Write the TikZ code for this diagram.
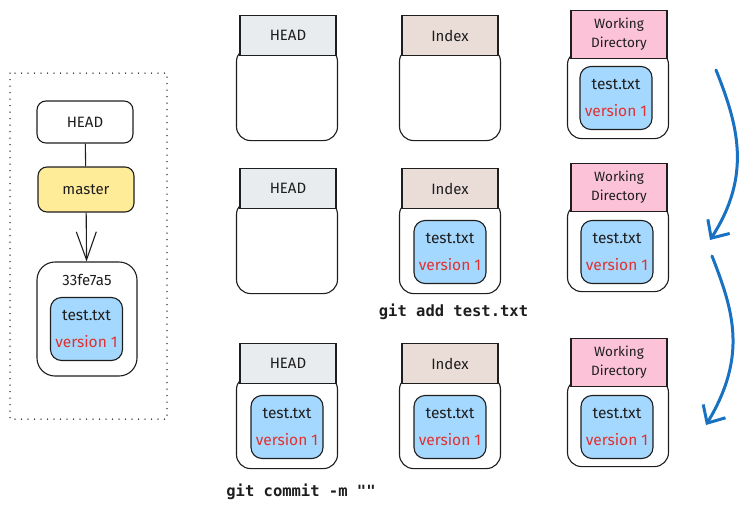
\documentclass[tikz,border=0pt]{standalone}
\usepackage{fontspec}
\setmainfont{Fira Sans}
\setmonofont{DejaVu Sans Mono}
\usetikzlibrary{arrows.meta}

\definecolor{ink}{HTML}{1E1E1E}
\definecolor{headgray}{HTML}{E9ECEF}
\definecolor{indexbrown}{HTML}{EADDD7}
\definecolor{wdpink}{HTML}{FCC2D7}
\definecolor{masteryellow}{HTML}{FFEC99}
\definecolor{fileblue}{HTML}{A5D8FF}
\definecolor{versionred}{HTML}{E03131}
\definecolor{flowblue}{HTML}{1971C2}

\begin{document}
\begin{tikzpicture}[x=1pt,y=-1pt,line width=1.1pt,draw=ink,text=ink,
    lbl/.style={font=\fontsize{15}{17}\selectfont},
    tab/.style={draw,lbl,inner sep=0pt,minimum width=96pt,minimum height=40pt,align=center,anchor=north},
    body/.style={draw,fill=white,rounded corners=14pt,inner sep=0pt,minimum width=101pt,anchor=north},
    file/.style={draw,fill=fileblue,rounded corners=11pt,inner sep=0pt,minimum width=72pt,minimum height=63pt,
      align=center,font=\fontsize{15.5}{27}\selectfont},
    box/.style={draw,lbl,rounded corners=9pt,inner sep=0pt,minimum width=96pt,minimum height=42pt},
    cmd/.style={font=\ttfamily\bfseries\fontsize{15.5}{18}\selectfont},
    flow/.style={flowblue,line width=3pt,line cap=round,-{Straight Barb[length=14pt,width=26pt,line width=3pt]}}]

    \useasboundingbox (0,0) rectangle (753,509);

    % the branch on the left
    \draw[line width=1.5pt,line cap=round,dash pattern=on 0pt off 6.5pt] (10,73) rectangle (167,419);
    \node[box] (ref) at (85,122) {HEAD};
    \node[box,fill=masteryellow,minimum height=45pt] (master) at (86,189.5) {master};
    \node[draw,rounded corners=18pt,minimum width=100pt,minimum height=114pt] (commit) at (87,319) {};
    \node[lbl] (sha) at (87,280) {33fe7a5};
    \node[file] (fc) at (86.5,329) {test.txt\\\textcolor{versionred}{version 1}};
    \draw (ref) -- (master);
    \draw[-{Straight Barb[length=28pt,width=20pt]}] (master) -- (commit);

    % HEAD, Index and Working Directory, three rows
    \foreach \r/\t in {1/15,2/168,3/343} {
        \node[body,minimum height=93pt] (hb\r) at (287,\t+32) {};
        \node[tab,fill=headgray] (h\r) at (288,\t) {HEAD};
        \node[body,minimum height=93pt] (ib\r) at (450,\t+32) {};
        \node[tab,fill=indexbrown] (i\r) at (450,\t) {Index};
        \node[body,minimum height=88pt] (wb\r) at (618,\t+35) {};
        \node[tab,fill=wdpink,minimum height=48pt,font=\fontsize{13.5}{19}\selectfont] (w\r) at (619,\t-5) {Working\\Directory};
    }

    % the file in each place
    \foreach \n/\x/\y in {w1/616/98,i2/450/252,w2/617/252,h3/287/427,i3/450/427,w3/617/427} {
        \node[file] (f\n) at (\x,\y) {test.txt\\\textcolor{versionred}{version 1}};
    }

    \node[cmd] (add) at (453.5,312) {git add test.txt};
    \node[cmd] (commitcmd) at (301,492) {git commit -m ""};

    % steps
    \coordinate (s1) at (716,70);
    \coordinate (e1) at (710,240);
    \coordinate (s2) at (712,256);
    \coordinate (e2) at (706,425);
    \draw[flow] (s1) .. controls (738,125) and (752,175) .. (e1);
    \draw[flow] (s2) .. controls (733,310) and (748,355) .. (e2);
\end{tikzpicture}
\end{document}
